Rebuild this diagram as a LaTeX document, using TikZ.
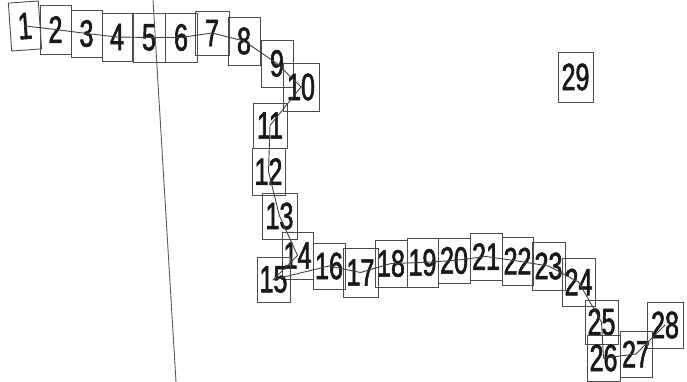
\documentclass[tikz,border=0pt]{standalone}
\usepackage{fontspec}
\newfontfamily\numfont{Liberation Sans}[FakeStretch=0.66,FakeBold=1.6]
\begin{document}
\begin{tikzpicture}[x=1pt,y=-1pt,
  box/.style={draw=black!70, line width=0.9pt, inner sep=0pt, fill=none,
    font=\numfont\fontsize{38}{38}\selectfont, text=black!90},
  link/.style={draw=black!75, line width=0.9pt}]
\useasboundingbox (0,0) rectangle (687,382);
% boxes
\node[box, minimum width=30pt, minimum height=48pt, rotate=4] (b1) at (25,26) {1};
\node[box, minimum width=31pt, minimum height=49pt] (b2) at (55.5,29.5) {2};
\node[box, minimum width=31pt, minimum height=47pt] (b3) at (86.5,33.5) {3};
\node[box, minimum width=30pt, minimum height=48pt] (b4) at (117,37) {4};
\node[box, minimum width=32pt, minimum height=49pt] (b5) at (149,37.5) {5};
\node[box, minimum width=32pt, minimum height=49pt] (b6) at (181,37.5) {6};
\node[box, minimum width=34pt, minimum height=44pt] (b7) at (212,33) {7};
\node[box, minimum width=32pt, minimum height=48pt] (b8) at (244,41) {8};
\node[box, minimum width=32pt, minimum height=47pt] (b9) at (277,63.5) {9};
\node[box, minimum width=36pt, minimum height=48pt] (b10) at (301,87) {10};
\node[box, minimum width=34pt, minimum height=45pt] (b11) at (270,125.5) {11};
\node[box, minimum width=33pt, minimum height=47pt] (b12) at (268.5,171.5) {12};
\node[box, minimum width=35pt, minimum height=46pt] (b13) at (279.5,216) {13};
\node[box, minimum width=31pt, minimum height=47pt] (b14) at (297.5,255.5) {14};
\node[box, minimum width=33pt, minimum height=45pt] (b15) at (273.5,279.5) {15};
\node[box, minimum width=32pt, minimum height=46pt] (b16) at (329,266) {16};
\node[box, minimum width=35pt, minimum height=49pt] (b17) at (360.5,272.5) {17};
\node[box, minimum width=32pt, minimum height=47pt] (b18) at (391,263.5) {18};
\node[box, minimum width=31pt, minimum height=49pt] (b19) at (422.5,262.5) {19};
\node[box, minimum width=32pt, minimum height=45pt] (b20) at (454,260.5) {20};
\node[box, minimum width=32pt, minimum height=47pt] (b21) at (486,256.5) {21};
\node[box, minimum width=31pt, minimum height=48pt] (b22) at (517.5,261) {22};
\node[box, minimum width=33pt, minimum height=48pt] (b23) at (548.5,266) {23};
\node[box, minimum width=33pt, minimum height=48pt] (b24) at (578.5,282) {24};
\node[box, minimum width=33pt, minimum height=44pt] (b25) at (601.5,322) {25};
\node[box, minimum width=33pt, minimum height=46pt] (b26) at (603.5,358) {26};
\node[box, minimum width=32pt, minimum height=46pt] (b27) at (636,354) {27};
\node[box, minimum width=36pt, minimum height=46pt] (b28) at (665,325) {28};
\node[box, minimum width=35pt, minimum height=50pt] (b29) at (575.5,77) {29};
% chain through the boxes
\draw[link] (b1.center) -- (b2.center) -- (b3.center) -- (b4.center) -- (b5.center)
  -- (b6.center) -- (b7.center) -- (b8.center) -- (b9.center) -- (b10.center)
  -- (b11.center) -- (b12.center) -- (b13.center) -- (b14.center) -- (b15.center)
  -- (b16.center) -- (b17.center) -- (b18.center) -- (b19.center) -- (b20.center)
  -- (b21.center) -- (b22.center) -- (b23.center) -- (b24.center) -- (b25.center)
  -- (b26.center) -- (b27.center) -- (b28.center);
% long line
\coordinate (lt) at (153,0);
\coordinate (lb) at (176,382);
\draw[draw=black!65, line width=0.9pt] (lt) -- (lb);
\end{tikzpicture}
\end{document}
